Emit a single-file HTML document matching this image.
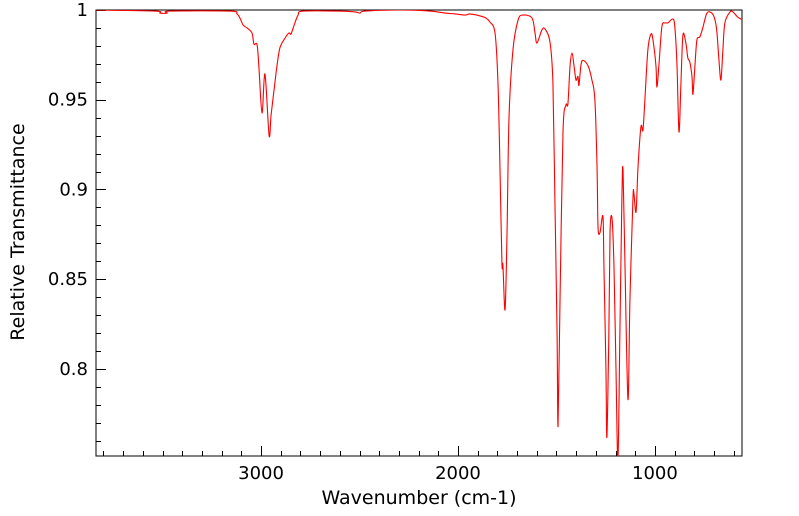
<!DOCTYPE html>
<html><head><meta charset="utf-8"><style>
body{margin:0;background:#fff;}
svg{display:block;font-family:"DejaVu Sans","Liberation Sans",sans-serif;}
</style></head><body>
<svg id="chart" width="799" height="516" viewBox="0 0 799 516" xmlns="http://www.w3.org/2000/svg">
<defs><clipPath id="clip"><rect x="96" y="10" width="646" height="446"/></clipPath></defs>
<rect x="96" y="10" width="646" height="446" fill="none" stroke="#000" stroke-width="1"/>
<g id="ticks"></g>
<g id="labels" font-size="18"></g>
<path id="line" fill="none" stroke="#f00" stroke-width="1.1" clip-path="url(#clip)"/>
<text x="419" y="504" font-size="19" text-anchor="middle">Wavenumber (cm-1)</text>
<text transform="translate(24,232) rotate(-90)" font-size="19" text-anchor="middle">Relative Transmittance</text>
</svg>
<script>
const wavenumbers=[3838,3538,3513,3477,3462,3157,3122,3107,3091,3071,3046,3036,3020,3010,2995,2980,2959,2949,2934,2919,2904,2878,2858,2848,2832,2812,2787,2599,2523,2497,2472,2294,2142,2066,2015,1964,1939,1888,1858,1838,1812,1797,1787,1777,1772,1761,1751,1741,1721,1695,1670,1624,1609,1599,1574,1558,1533,1518,1508,1497,1492,1482,1467,1452,1442,1431,1421,1411,1401,1391,1386,1376,1366,1340,1320,1305,1294,1289,1279,1264,1259,1249,1244,1234,1228,1218,1208,1198,1188,1178,1168,1162,1152,1137,1127,1112,1107,1096,1086,1071,1061,1051,1036,1020,1010,995,990,980,965,949,934,909,899,888,878,868,858,843,833,823,812,807,797,787,772,756,736,711,695,685,675,665,655,645,619,604,579,553];
const transmittance=[1.000,0.9994,0.9983,0.9983,0.9994,0.9994,0.9978,0.9955,0.9916,0.990,0.9872,0.981,0.9805,0.9666,0.9426,0.9643,0.930,0.9415,0.9554,0.969,0.979,0.9844,0.9872,0.9866,0.9916,0.9972,0.9994,0.9994,0.9989,0.9983,0.9994,1.000,0.9994,0.9983,0.9978,0.9972,0.9978,0.9967,0.9955,0.9933,0.9872,0.9593,0.9125,0.859,0.858,0.833,0.876,0.940,0.9777,0.9944,0.9972,0.9955,0.9872,0.9816,0.9889,0.9894,0.9822,0.9593,0.894,0.820,0.768,0.8384,0.9315,0.947,0.9476,0.969,0.976,0.969,0.961,0.963,0.958,0.969,0.972,0.969,0.961,0.950,0.9125,0.879,0.876,0.885,0.857,0.801,0.762,0.820,0.876,0.884,0.857,0.801,0.749,0.820,0.894,0.911,0.857,0.783,0.8384,0.894,0.898,0.8875,0.9125,0.935,0.933,0.950,0.9777,0.9866,0.9833,0.969,0.957,0.969,0.9905,0.9928,0.9928,0.995,0.9905,0.969,0.932,0.9593,0.986,0.9816,0.9733,0.971,0.963,0.953,0.969,0.9833,0.985,0.9905,0.9983,0.9983,0.9944,0.9872,0.972,0.961,0.9777,0.9928,0.9989,0.9989,0.996,0.9944];
const xTickValues=[3000,2000,1000];
const yTickValues=[0.8,0.85,0.9,0.95,1];
const yTickLabels=["0.8","0.85","0.9","0.95","1"];
const X0=96,X1=742,Y0=10,Y1=456;
const W_LEFT=3838,W_RIGHT=558,T_TOP=1.0,T_BOTTOM=0.7515;
function xs(w){return X0+(W_LEFT-w)/(W_LEFT-W_RIGHT)*(X1-X0);}
function ys(t){return Y0+(T_TOP-t)/(T_TOP-T_BOTTOM)*(Y1-Y0);}
const NS="http://www.w3.org/2000/svg";
const n=Math.min(wavenumbers.length,transmittance.length);
const P=[];for(let i=0;i<n;i++)P.push([xs(wavenumbers[i]),ys(transmittance[i])]);
let d="M"+P[0][0].toFixed(2)+","+P[0][1].toFixed(2);
const k=0.16;
for(let i=0;i<n-1;i++){const p0=P[Math.max(0,i-1)],p1=P[i],p2=P[i+1],p3=P[Math.min(n-1,i+2)];
const c1=[p1[0]+(p2[0]-p0[0])*k,p1[1]+(p2[1]-p0[1])*k],c2=[p2[0]-(p3[0]-p1[0])*k,p2[1]-(p3[1]-p1[1])*k];
d+="C"+c1[0].toFixed(2)+","+c1[1].toFixed(2)+" "+c2[0].toFixed(2)+","+c2[1].toFixed(2)+" "+p2[0].toFixed(2)+","+p2[1].toFixed(2);}
document.getElementById('line').setAttribute('d',d);
const tg=document.getElementById('ticks'),lg=document.getElementById('labels');
function ln(x1,y1,x2,y2){const l=document.createElementNS(NS,'line');
l.setAttribute('x1',x1);l.setAttribute('y1',y1);l.setAttribute('x2',x2);l.setAttribute('y2',y2);
l.setAttribute('stroke','#000');l.setAttribute('stroke-width','1');


tg.appendChild(l);}
for(let w=600;w<=3800;w+=100){const x=Math.round(xs(w))+0.5;const major=w%1000===0;ln(x,Y1,x,Y1-(major?10:5));}
for(let j=76;j<=100;j++){const t=j/100;const y=Math.round(ys(t))+0.5;const major=j%5===0;ln(X0,y,X0+(major?10:5),y);}
xTickValues.forEach(v=>{const t=document.createElementNS(NS,'text');
t.setAttribute('x',xs(v));t.setAttribute('y',Y1+23);t.setAttribute('text-anchor','middle');t.textContent=String(v);


lg.appendChild(t);});
yTickValues.forEach((v,i)=>{const t=document.createElementNS(NS,'text');
t.setAttribute('x',X0-8);t.setAttribute('y',ys(v)+6);t.setAttribute('text-anchor','end');t.textContent=yTickLabels[i];


lg.appendChild(t);});
</script>
</body></html>
